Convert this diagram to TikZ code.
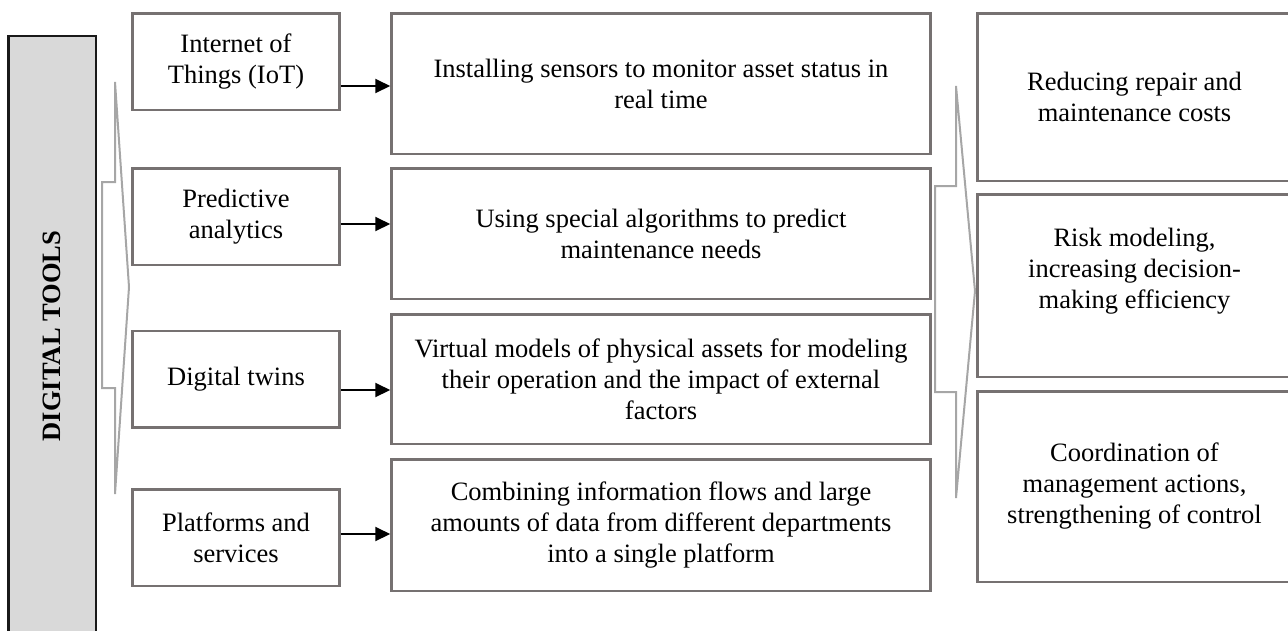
\documentclass[tikz,border=0pt]{standalone}
\usepackage{fontspec}
\setmainfont{Liberation Serif}
\usetikzlibrary{arrows.meta}

\definecolor{boxgray}{HTML}{767171}
\definecolor{chevgray}{HTML}{A6A6A6}
\definecolor{barfill}{HTML}{D9D9D9}

\newcommand{\chevron}[4]{
    % #1: x of the spine
    % #2: y of the top end
    % #3: depth of the notch (to the left)
    % #4: depth of the tip (to the right)
    \draw[chev] (#1,#2) -- ++(#4,205) -- (#1,#2+412) -- (#1,#2+306)
        -- ++(-#3,0) -- (#1-#3,#2+100) -- (#1,#2+100) -- cycle;
}

\begin{document}
\begin{tikzpicture}[x=1pt, y=-1pt]
    \tikzstyle{every node}=[font=\fontsize{26.5}{31}\selectfont]
    % tools on the left, what they do in the middle, gains on the right
    \tikzstyle{tool}=[draw=boxgray, line width=2.5pt, align=center, minimum width=207pt, minimum height=96.5pt]
    \tikzstyle{task}=[draw=boxgray, line width=2.5pt, align=center, minimum width=539pt]
    \tikzstyle{gain}=[draw=boxgray, line width=2.5pt, align=center, minimum width=314pt]
    \tikzstyle{bar}=[draw=black!90, fill=barfill, line width=2.5pt, rotate=90, minimum width=600pt, minimum height=87.5pt, font=\bfseries\fontsize{26.5}{31}\selectfont]
    \tikzstyle{chev}=[draw=chevgray, line width=2pt, line join=miter]
    \tikzstyle{arrow}=[-{Triangle[length=15pt, width=14pt]}, line width=2pt]
    \clip (0,0) rectangle (1288,630);
    % vertical title bar
    \node[bar] (tools) at (52,336) {DIGITAL TOOLS};
    % tools
    \node[tool] (iot) at (236,61.5) {Internet of\\Things (IoT)};
    \node[tool] (pred) at (236,216.5) {Predictive\\analytics};
    \node[tool] (twin) at (236,379) {Digital twins};
    \node[tool] (plat) at (236,537.5) {Platforms and\\services};
    % what each tool does
    \node[task, minimum height=140.5pt] (sense) at (661,83.5) {Installing sensors to monitor asset status in\\real time};
    \node[task, minimum height=130.5pt] (algo) at (661,233.5) {Using special algorithms to predict\\maintenance needs};
    \node[task, minimum height=129.5pt] (model) at (661,379) {Virtual models of physical assets for modeling\\their operation and the impact of external\\factors};
    \node[task, minimum height=131.5pt] (merge) at (661,525) {Combining information flows and large\\amounts of data from different departments\\into a single platform};
    % gains (text of the middle one sits high)
    \node[gain, minimum height=167.5pt] (cost) at (1134.5,97) {Reducing repair and\\maintenance costs};
    \node[gain, minimum height=182.5pt, text depth=34pt] (risk) at (1134.5,285.5) {Risk modeling,\\increasing decision-\\making efficiency};
    \node[gain, minimum height=190.5pt] (ctrl) at (1134.5,486.5) {Coordination of\\management actions,\\strengthening of control};
    % arrows tool -> task
    \draw[arrow] (iot.east |- 0,86) -- (sense.west |- 0,86);
    \draw[arrow] (pred.east |- 0,224) -- (algo.west |- 0,224);
    \draw[arrow] (twin.east |- 0,390) -- (model.west |- 0,390);
    \draw[arrow] (plat.east |- 0,534) -- (merge.west |- 0,534);
    % grouping chevrons
    \chevron{115}{82}{13}{14}
    \chevron{956}{86}{21}{19}
\end{tikzpicture}
\end{document}
